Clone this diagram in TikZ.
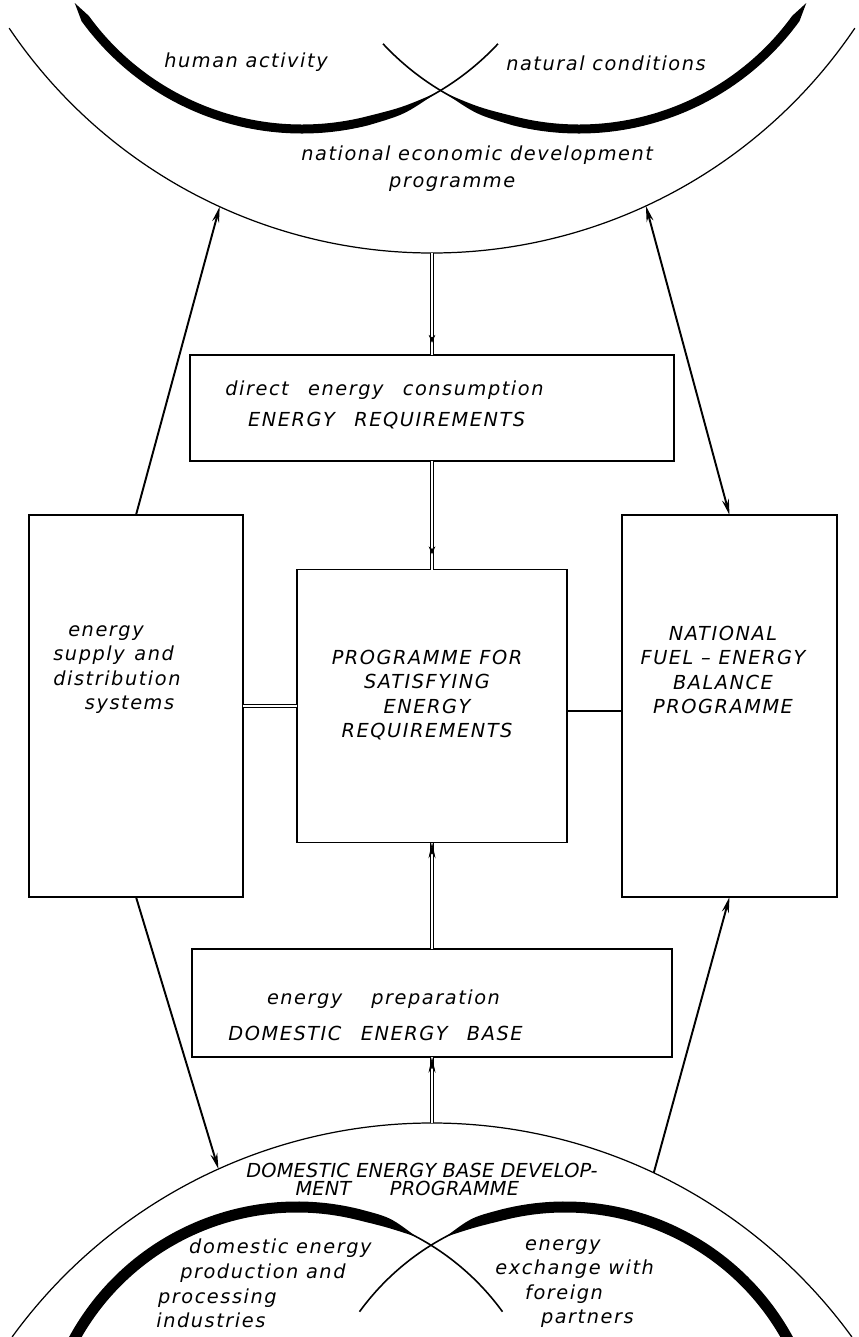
\documentclass[tikz,border=0pt]{standalone}
\usepackage{fontspec}
\newfontfamily\lettering{DejaVu Sans}[LetterSpace=8]
\usetikzlibrary{arrows.meta, calc, decorations.markings}

\begin{document}
\begin{tikzpicture}[
		x=0.2mm, y=-0.2mm,
		>={Stealth[length=9pt, width=4pt]},
		box/.style={rectangle, draw=black, line width=0.7pt, inner sep=0pt, outer sep=0pt},
		txt/.style={font=\lettering\itshape\fontsize{11}{14}\selectfont, inner sep=0pt},
		tight/.style={inner sep=0pt, font=\lettering\addfontfeatures{LetterSpace=1}\itshape\fontsize{11}{14}\selectfont},
		rim/.style={line width=0.7pt},
		stroke/.style={line width=0.9pt},
		dline/.style={double, double distance=0.9pt, line width=0.65pt},
		link/.style={line width=1.4pt},
		arr/.style={->, line width=1.1pt},
		bigtip/.style={decorate, decoration={markings, mark=at position #1 with {\arrow{Stealth[length=9pt, width=4pt]}}}},
		smalltip/.style={decorate, decoration={markings, mark=at position #1 with {\arrow{Stealth[length=4.5pt, width=3.8pt]}}}}
	]

	\path[fill=white, use as bounding box] (0,0) rectangle (858,1337);

	% centres of the outer rims and the points where the arrows meet them
	\coordinate (tc) at (432,-257);
	\coordinate (bc) at (432,1642);
	\coordinate (tarcL) at ($(tc)+(114.6:510)$);
	\coordinate (tarcR) at ($(tc)+(65.2:510)$);
	\coordinate (tarcB) at ($(tc)+(90:510)$);
	\coordinate (barcL) at ($(bc)+(245.7:519)$);
	\coordinate (barcR) at ($(bc)+(295.3:519)$);
	\coordinate (barcT) at ($(bc)+(270:519)$);

	% National economic development programme
	\draw[rim] (tc) ++(146:510) arc[start angle=146, end angle=34, radius=510];
	\coordinate (tl) at (302,-139);
	\coordinate (tr) at (579,-139);
	\draw[stroke] (tl) ++(146:268) arc[start angle=146, end angle=43, radius=268];
	\fill ($(tl)+(148:268)$) -- ($(tl)+(144:272.5)$) arc[start angle=144, end angle=76, radius=272.5]
		.. controls ($(tl)+(68:273.5)$) .. ($(tl)+(60:268)$)
		.. controls ($(tl)+(68:266)$) .. ($(tl)+(76:263.5)$)
		arc[start angle=76, end angle=144, radius=263.5] -- cycle;
	\draw[stroke] (tr) ++(34:268) arc[start angle=34, end angle=137, radius=268];
	\fill ($(tr)+(32:268)$) -- ($(tr)+(36:272.5)$) arc[start angle=36, end angle=104, radius=272.5]
		.. controls ($(tr)+(112:273.5)$) .. ($(tr)+(120:268)$)
		.. controls ($(tr)+(112:266)$) .. ($(tr)+(104:263.5)$)
		arc[start angle=104, end angle=36, radius=263.5] -- cycle;
	\node[txt] (human) at (246,62) {human activity};
	\node[txt] (natural) at (606,63) {natural conditions};
	\node[txt, anchor=west, align=left] (nedp) at (301,168.5)
		{national economic development\\[1.3pt]\hspace*{50pt}programme};

	% Boxes
	\node[box, minimum width=9.68cm, minimum height=2.12cm] (direct) at (432,408) {};
	\node[box, minimum width=4.28cm, minimum height=7.64cm] (lsys) at (136,706) {};
	\node[box, minimum width=5.4cm, minimum height=5.46cm] (satisfy) at (432,706) {};
	\node[box, minimum width=4.3cm, minimum height=7.64cm] (rbal) at (729.5,706) {};
	\node[box, minimum width=9.6cm, minimum height=2.16cm] (prep) at (432,1003) {};

	\node[txt, anchor=west, align=left] (directtxt) at (225,405)
		{direct\quad energy\quad consumption\\[4pt]\hspace*{13pt}ENERGY\quad REQUIREMENTS};
	\node[txt, anchor=west, align=left] (lsystxt) at (53,669.5)
		{\hspace*{8.5pt}energy\\supply\enspace and\\distribution\\\hspace*{18pt}systems};
	\node[txt, align=center] (satisfytxt) at (427,695)
		{PROGRAMME FOR\\SATISFYING\\ENERGY\\REQUIREMENTS};
	\node[txt, align=center] (rbaltxt) at (723,670)
		{NATIONAL\\FUEL – ENERGY\\BALANCE\\PROGRAMME};
	\node[txt, anchor=west, align=left] (preptxt) at (228,1015)
		{\hspace*{22pt}energy\quad\enspace preparation\\[6.4pt]DOMESTIC\quad ENERGY\quad BASE};

	% Domestic energy base development programme
	\draw[rim] (bc) ++(216:519) arc[start angle=216, end angle=324, radius=519];
	\coordinate (bl) at (297,1461);
	\coordinate (br) at (565,1461);
	\draw[stroke] (bl) ++(205:254) arc[start angle=205, end angle=324, radius=254];
	\fill ($(bl)+(205:254)$) -- ($(bl)+(207:259.5)$) arc[start angle=207, end angle=284, radius=259.5]
		.. controls ($(bl)+(291:261)$) .. ($(bl)+(298:254)$)
		.. controls ($(bl)+(291:250.5)$) .. ($(bl)+(284:248.5)$)
		arc[start angle=284, end angle=207, radius=248.5] -- cycle;
	\draw[stroke] (br) ++(335:254) arc[start angle=335, end angle=216, radius=254];
	\fill ($(br)+(335:254)$) -- ($(br)+(333:259.5)$) arc[start angle=333, end angle=256, radius=259.5]
		.. controls ($(br)+(249:261)$) .. ($(br)+(242:254)$)
		.. controls ($(br)+(249:250.5)$) .. ($(br)+(256:248.5)$)
		arc[start angle=256, end angle=333, radius=248.5] -- cycle;
	\node[tight, anchor=west, align=left] (debdp) at (246,1179)
		{DOMESTIC ENERGY BASE DEVELOP-\\[-3.8pt]\hspace*{28pt}MENT\qquad PROGRAMME};
	\node[txt, anchor=west, align=left] (prodtxt) at (156,1283.5)
		{\hspace*{18.7pt}domestic energy\\\hspace*{13.6pt}production and\\\hspace*{1pt}processing\\industries};
	\node[txt, anchor=west, align=left] (exchtxt) at (495,1283.5)
		{\hspace*{17pt}energy\\exchange with\\\hspace*{17pt}foreign\\\hspace*{26pt}partners};

	% Connectors
	\draw[dline] (tarcB) -- (direct.north);
	\path[smalltip=0.88] (tarcB) -- (direct.north);
	\draw[dline] (direct.south) -- (satisfy.north);
	\path[smalltip=0.86] (direct.south) -- (satisfy.north);
	\draw[dline] (prep.north) -- (satisfy.south);
	\path[bigtip=1] (prep.north) -- (satisfy.south);
	\draw[dline] (barcT) -- (prep.south);
	\path[bigtip=1] (barcT) -- (prep.south);
	\draw[dline] (lsys.east) -- (satisfy.west);
	\draw[link] ([yshift=-1mm]satisfy.east) -- ([yshift=-1mm]rbal.west);

	\draw[arr] (lsys.north) -- (tarcL);
	\draw[arr, <->] (rbal.north) -- (tarcR);
	\draw[arr] (lsys.south) -- (barcL);
	\draw[arr] (barcR) -- (rbal.south);

\end{tikzpicture}
\end{document}
